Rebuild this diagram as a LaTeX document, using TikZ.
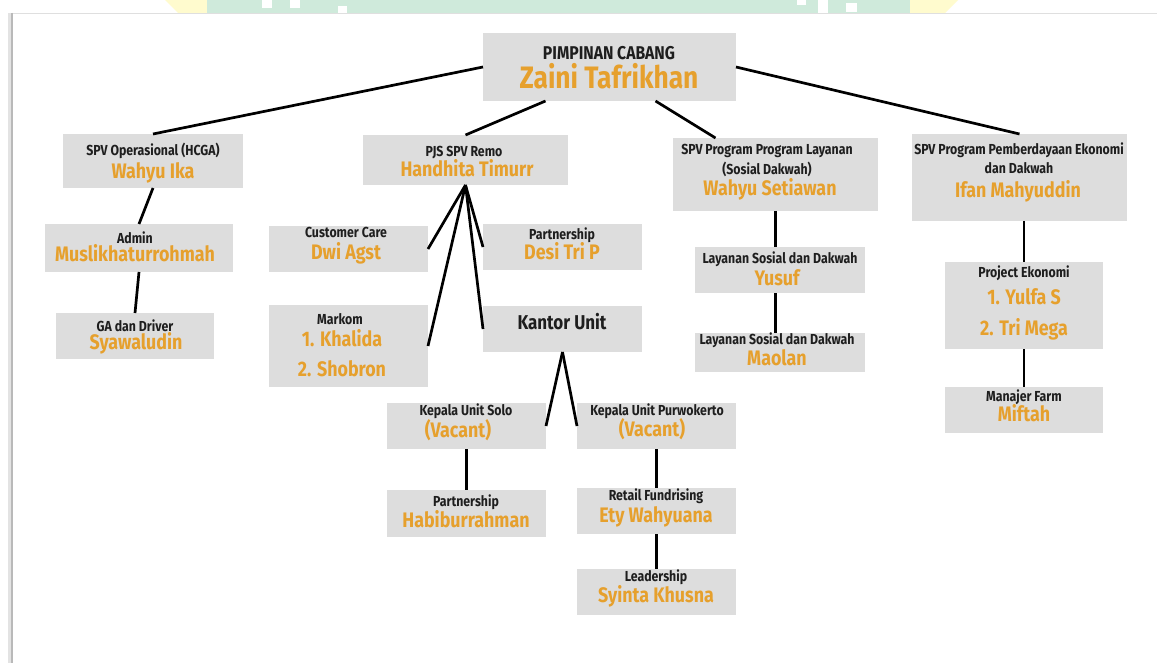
\documentclass[tikz,border=0pt]{standalone}
\usepackage{fontspec}
\setmainfont{Fira Sans}
\newfontfamily\lblfont[FakeStretch=0.85]{Fira Sans}
\usetikzlibrary{fit}
\definecolor{boxgray}{RGB}{221,221,221}
\definecolor{nameor}{RGB}{230,160,45}
\definecolor{lblk}{RGB}{30,30,30}
\definecolor{wmgreen}{RGB}{207,234,219}
\definecolor{wmyellow}{RGB}{255,251,206}
\definecolor{edgegray}{RGB}{185,185,185}
\begin{document}
\begin{tikzpicture}[x=1pt,y=-1pt,
  box/.style={fill=boxgray, draw=none, inner sep=0pt, outer sep=0pt},
  lab/.style={anchor=mid, yshift=-1.5pt, inner sep=0pt, text=lblk, font=\lblfont\bfseries\fontsize{14.5}{16}\selectfont},
  nam/.style={anchor=mid, yshift=-2pt, inner sep=0pt, text=nameor, font=\lblfont\bfseries\fontsize{21}{24}\selectfont},
  link/.style={draw=black, line width=2.7pt}]
\useasboundingbox (0,0) rectangle (1157,663);
\fill[white] (0,0) rectangle (1157,663);
% watermark strip
\fill[wmyellow] (165,0) -- (207,0) -- (207,13) -- (178,13) -- cycle;
\fill[wmyellow] (910,0) -- (958,0) -- (945,13) -- (910,13) -- cycle;
\fill[wmgreen] (207,0) rectangle (910,13);
\fill[white] (262,0) rectangle (272,8);
\fill[white] (290,0) rectangle (300,8);
\fill[white] (338,6) rectangle (347,13);
\fill[white] (797,0) rectangle (806,5);
\fill[white] (818,0) rectangle (828,13);
\fill[white] (846,3) rectangle (857,12);
% panel edges
\draw[edgegray!45, line width=1.5pt] (12,13.5) -- (1157,13.5);
\draw[edgegray!40, line width=3pt] (9,13) -- (9,663);
\draw[edgegray, line width=1.8pt] (12,13) -- (12,663);

% boxes
\node[box, fit={(483,33) (736,101)}] (top) {};
\node[box, fit={(63,134) (243,188)}] (ops) {};
\node[box, fit={(45,224) (233,272)}] (adm) {};
\node[box, fit={(56,313) (214,359)}] (ga) {};
\node[box, fit={(363,135) (568,185)}] (pjs) {};
\node[box, fit={(269,226) (428,272)}] (cc) {};
\node[box, fit={(483,224) (642,270)}] (desi) {};
\node[box, fit={(269,305) (428,387)}] (mk) {};
\node[box, fit={(483,306) (642,352)}] (ku) {};
\node[box, fit={(387,403) (546,449)}] (solo) {};
\node[box, fit={(577,403) (736,449)}] (pwk) {};
\node[box, fit={(387,490) (546,537)}] (hab) {};
\node[box, fit={(577,488) (736,534)}] (ret) {};
\node[box, fit={(577,569) (736,615)}] (lead) {};
\node[box, fit={(673,138) (878,211)}] (lay) {};
\node[box, fit={(695,247) (865,293)}] (ys) {};
\node[box, fit={(695,333) (865,372)}] (mao) {};
\node[box, fit={(912,134) (1127,221)}] (pemb) {};
\node[box, fit={(945,262) (1103,349)}] (pe) {};
\node[box, fit={(945,387) (1103,433)}] (mf) {};

% texts
\node[lab, font=\lblfont\bfseries\fontsize{18.5}{20}\selectfont] (topA) at (609,55) {PIMPINAN CABANG};
\node[nam, font=\lblfont\bfseries\fontsize{31}{34}\selectfont] (topB) at (609,84) {Zaini Tafrikhan};
\node[lab] (opsA) at (153,151) {SPV Operasional (HCGA)};
\node[nam] (opsB) at (153,174) {Wahyu Ika};
\node[lab] (admA) at (135,239) {Admin};
\node[nam] (admB) at (135,257) {Muslikhaturrohmah};
\node[lab] (gaA) at (135,327) {GA dan Driver};
\node[nam] (gaB) at (136,345) {Syawaludin};
\node[lab] (pjsA) at (464,152) {PJS SPV Remo};
\node[nam] (pjsB) at (467,172) {Handhita Timurr};
\node[lab] (ccA) at (346,233) {Customer Care};
\node[nam] (ccB) at (346,255) {Dwi Agst};
\node[lab] (desiA) at (562,235) {Partnership};
\node[nam] (desiB) at (562,255) {Desi Tri P};
\node[lab] (mkA) at (340,320) {Markom};
\node[nam] (mkB) at (342,342) {1. Khalida};
\node[nam] (mkC) at (342,372) {2. Shobron};
\node[lab, font=\lblfont\bfseries\fontsize{20}{22}\selectfont] (kuA) at (562,325) {Kantor Unit};
\node[lab] (soloA) at (466,411) {Kepala Unit Solo};
\node[nam] (soloB) at (458,433) {(Vacant)};
\node[lab] (pwkA) at (657,411) {Kepala Unit Purwokerto};
\node[nam] (pwkB) at (652,432) {(Vacant)};
\node[lab] (habA) at (466,502) {Partnership};
\node[nam] (habB) at (466,523) {Habiburrahman};
\node[lab] (retA) at (656,496) {Retail Fundrising};
\node[nam] (retB) at (656,518) {Ety Wahyuana};
\node[lab] (leadA) at (656,577) {Leadership};
\node[nam] (leadB) at (656,598) {Syinta Khusna};
\node[lab] (layA) at (767,150) {SPV Program Program Layanan};
\node[lab] (layB) at (767,170) {(Sosial Dakwah)};
\node[nam] (layC) at (770,191) {Wahyu Setiawan};
\node[lab] (ysA) at (780,259) {Layanan Sosial dan Dakwah};
\node[nam] (ysB) at (777,281) {Yusuf};
\node[lab] (maoA) at (777,340) {Layanan Sosial dan Dakwah};
\node[nam] (maoB) at (777,361) {Maolan};
\node[lab] (pembA) at (1019,150) {SPV Program Pemberdayaan Ekonomi};
\node[lab] (pembB) at (1019,169) {dan Dakwah};
\node[nam] (pembC) at (1018,193) {Ifan Mahyuddin};
\node[lab] (peA) at (1024,273) {Project Ekonomi};
\node[nam] (peB) at (1024,300) {1. Yulfa S};
\node[nam] (peC) at (1024,331) {2. Tri Mega};
\node[lab] (mfA) at (1024,397) {Manajer Farm};
\node[nam] (mfB) at (1024,417) {Miftah};

% connectors
\draw[link] (top.west) -- (ops.north);
\draw[link] ([xshift=-64]top.south) -- (pjs.north);
\draw[link] ([xshift=46]top.south) -- ([xshift=-60]lay.north);
\draw[link] (top.east) -- (pemb.north);
\draw[link] (ops.south) -- (adm.north);
\draw[link] (adm.south) -- (ga.north);
\draw[link] (pjs.south) -- (cc.east);
\draw[link] (pjs.south) -- (mk.east);
\draw[link] (pjs.south) -- (desi.west);
\draw[link] (pjs.south) -- (ku.west);
\draw[link] (ku.south) -- (solo.east);
\draw[link] (ku.south) -- (pwk.west);
\draw[link] (solo.south) -- (hab.north);
\draw[link] (pwk.south) -- (ret.north);
\draw[link] (ret.south) -- (lead.north);
\draw[link] (lay.south) -- (lay.south |- ys.north);
\draw[link] (ys.south -| lay.south) -- (lay.south |- mao.north);
\draw[link] (pe.north |- pemb.south) -- (pe.north);
\draw[link] (pe.south) -- (mf.north);
\end{tikzpicture}
\end{document}
